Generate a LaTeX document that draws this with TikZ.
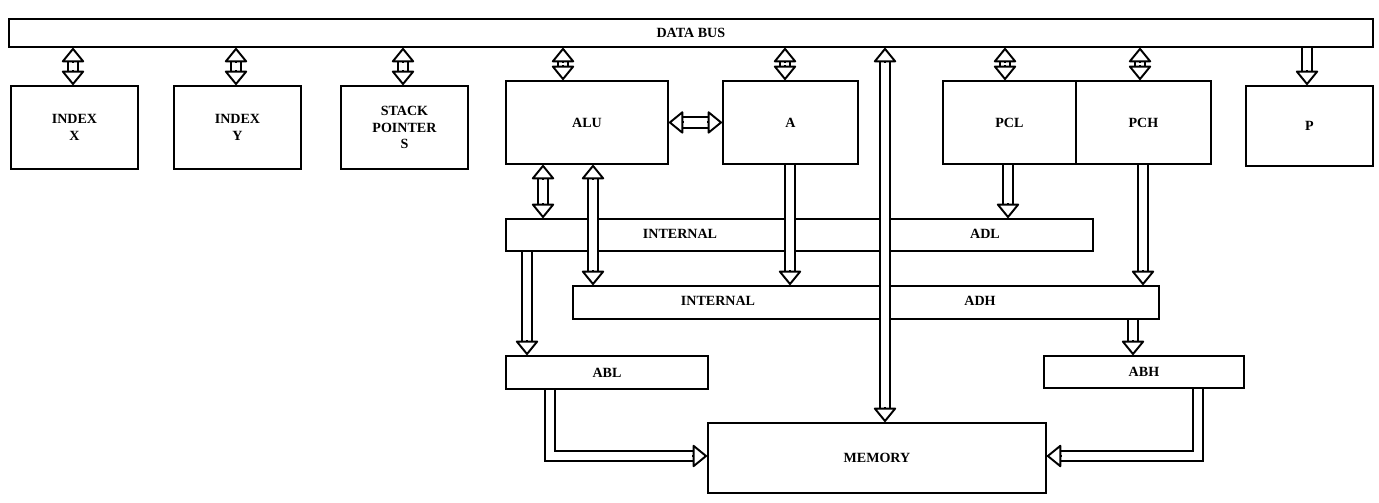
\documentclass[tikz,border=0pt]{standalone}
\usepackage{fontspec}
\setmainfont{Liberation Serif}
\usetikzlibrary{arrows.meta,positioning,calc}
\newcommand\busto[2]{%
  \coordinate (bs) at (#1); \coordinate (be) at (#2);
  \draw[shaft,shorten >=0.25cm] (bs) -- (be);
  \draw[head] ($(be)!0.3cm!(bs)$) -- (be);}
\newcommand\busboth[2]{%
  \coordinate (bs) at (#1); \coordinate (be) at (#2);
  \draw[shaft,shorten >=0.25cm,shorten <=0.25cm] (bs) -- (be);
  \draw[head] ($(be)!0.3cm!(bs)$) -- (be);
  \draw[head] ($(bs)!0.3cm!(be)$) -- (bs);}
\begin{document}
\begin{tikzpicture}[x=0.02cm,y=-0.02cm, line width=1.1pt,
  box/.style={draw=black,fill=white,anchor=north west,inner sep=0pt,align=center,
    font=\bfseries\footnotesize},
  shaft/.style={draw=black,double=white,double distance=0.17cm},
  head/.style={-{Triangle[width=0.48cm,length=0.3cm,fill=white,line width=1.1pt,round]}}
  ]
\useasboundingbox (0,0) rectangle (1379,503);
% Registers
\node[box,minimum width=27.28cm,minimum height=0.56cm] (db) at (8,18) {DATA BUS};
\node[box,minimum width=2.54cm,minimum height=1.66cm] (ix) at (10,85) {INDEX\\X};
\node[box,minimum width=2.54cm,minimum height=1.66cm] (iy) at (173,85) {INDEX\\Y};
\node[box,minimum width=2.54cm,minimum height=1.66cm] (sp) at (340,85) {STACK\\POINTER\\S};
\node[box,minimum width=3.24cm,minimum height=1.66cm] (alu) at (505,80) {ALU};
\node[box,minimum width=2.70cm,minimum height=1.66cm] (acc) at (722,80) {A};
\node[box,minimum width=2.66cm,minimum height=1.66cm] (pcl) at (942,80) {PCL};
\node[box,minimum width=2.70cm,minimum height=1.66cm] (pch) at (1075,80) {PCH};
\node[box,minimum width=2.54cm,minimum height=1.60cm] (p) at (1245,85) {P};
% Internal buses
\node[box,minimum width=11.74cm,minimum height=0.64cm] (adl) at (505,218) {};
\node[font=\bfseries\footnotesize] at (680,234) {INTERNAL};
\node[font=\bfseries\footnotesize] at (985,234) {ADL};
\node[box,minimum width=11.72cm,minimum height=0.66cm] (adh) at (572,285) {};
\node[font=\bfseries\footnotesize] at (718,301) {INTERNAL};
\node[font=\bfseries\footnotesize] at (980,301) {ADH};
% Address buffers and memory
\node[box,minimum width=4.04cm,minimum height=0.66cm] (abl) at (505,355) {ABL};
\node[box,minimum width=4.00cm,minimum height=0.64cm] (abh) at (1043,355) {ABH};
\node[box,minimum width=6.76cm,minimum height=1.40cm] (mem) at (707,422) {MEMORY};
% Data bus connections
\foreach \n/\x in {ix/73,iy/236,sp/403,alu/563,acc/785,pcl/1005,pch/1140}
  {\busboth{\x,0 |- db.south}{\x,0 |- \n.north}}
\busto{1307,0 |- db.south}{1307,0 |- p.north}
\busboth{885,0 |- db.south}{885,0 |- mem.north}
\busboth{alu.east}{acc.west}
% Internal connections
\busboth{543,0 |- alu.south}{543,0 |- adl.north}
\busboth{593,0 |- alu.south}{593,0 |- adh.north}
\busto{790,0 |- acc.south}{790,0 |- adh.north}
\busto{1008,0 |- pcl.south}{1008,0 |- adl.north}
\busto{1143,0 |- pch.south}{1143,0 |- adh.north}
\busto{527,0 |- adl.south}{527,0 |- abl.north}
\busto{1133,0 |- adh.south}{1133,0 |- abh.north}
% To memory
\coordinate (lm) at (mem.west |- 0,456);
\coordinate (rm) at (mem.east |- 0,456);
\draw[shaft,shorten >=0.25cm] (550,0 |- abl.south) |- (lm);
\draw[head] ([xshift=-0.3cm]lm) -- (lm);
\draw[shaft,shorten >=0.25cm] (1198,0 |- abh.south) |- (rm);
\draw[head] ([xshift=0.3cm]rm) -- (rm);
\end{tikzpicture}
\end{document}
